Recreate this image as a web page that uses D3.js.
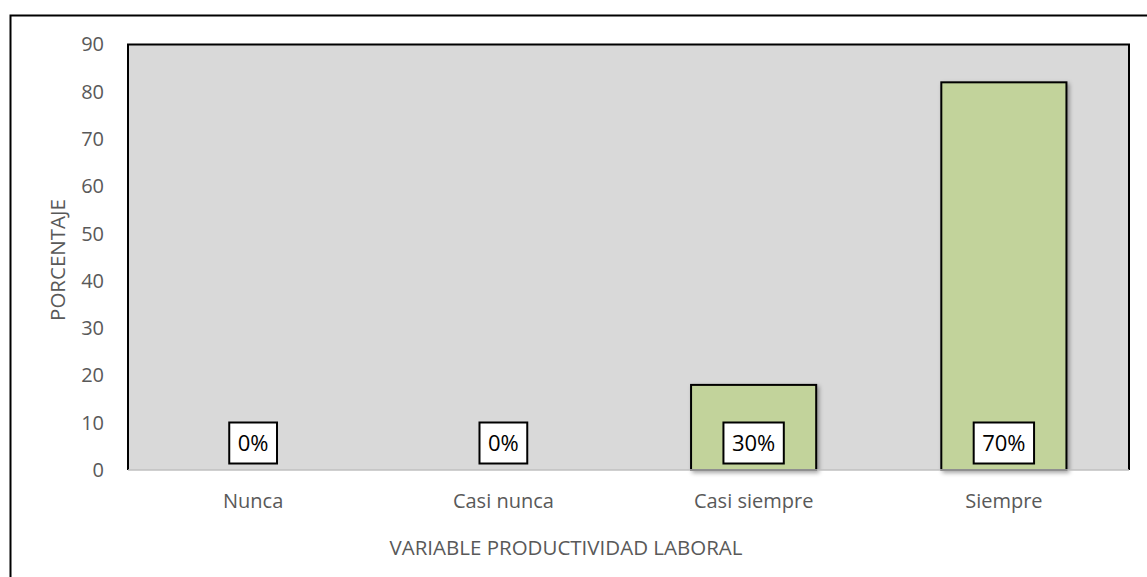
<!DOCTYPE html>
<html>
<head>
<meta charset="utf-8">
<script src="https://cdn.jsdelivr.net/npm/d3@7"></script>
<style>
  body { margin: 0; background: #fff; }
  svg { display: block; font-family: 'Open Sans', sans-serif; }
</style>
</head>
<body>
<div id="root"></div>
<script>
const categories = ['Nunca', 'Casi nunca', 'Casi siempre', 'Siempre'];
const values = [0, 0, 18, 82];
const labels = ['0%', '0%', '30%', '70%'];
const yTicks = [0, 10, 20, 30, 40, 50, 60, 70, 80, 90];

const width = 1147, height = 577;
const plot = {left: 128, top: 44.5, right: 1129, bottom: 470};

const svg = d3.select('#root').append('svg')
              .attr('width', width)
              .attr('height', height);

const defs = svg.append('defs');
const f = defs.append('filter').attr('id', 'shadow')
  .attr('x', '-10%').attr('y', '-10%').attr('width', '130%').attr('height', '130%');
f.append('feDropShadow').attr('dx', 2).attr('dy', 2).attr('stdDeviation', 2)
  .attr('flood-color', '#000').attr('flood-opacity', 0.35);

// outer chart border
svg.append('rect')
   .attr('x', 10.5).attr('y', 15.5)
   .attr('width', width + 20).attr('height', height + 20)
   .attr('fill', 'none').attr('stroke', '#000').attr('stroke-width', 2);

const x = d3.scaleBand()
  .domain(categories)
  .range([plot.left, plot.right])
  .paddingInner(0.5).paddingOuter(0.25);

const y = d3.scaleLinear()
  .domain([0, 90])
  .range([plot.bottom, plot.top]);

// plot area
svg.append('rect')
   .attr('x', plot.left).attr('y', plot.top)
   .attr('width', plot.right - plot.left).attr('height', plot.bottom - plot.top)
   .attr('fill', '#d9d9d9');

svg.append('path')
   .attr('d', `M${plot.left},${plot.bottom}V${plot.top}H${plot.right}V${plot.bottom}`)
   .attr('fill', 'none').attr('stroke', '#000').attr('stroke-width', 2);

// bars
const barData = categories.map((c, i) => ({cat: c, value: values[i]})).filter(d => d.value > 0);
svg.selectAll('rect.bar')
   .data(barData).enter()
   .append('rect')
   .attr('class', 'bar')
   .attr('x', d => x(d.cat))
   .attr('width', x.bandwidth())
   .attr('y', d => y(d.value))
   .attr('height', d => y(0) - y(d.value))
   .attr('fill', '#c2d39b')
   .attr('stroke', '#000').attr('stroke-width', 2)
   .attr('filter', 'url(#shadow)');

// baseline axis
svg.append('line')
   .attr('x1', plot.left).attr('x2', plot.right)
   .attr('y1', y(0)).attr('y2', y(0))
   .attr('stroke', '#bfbfbf').attr('stroke-width', 1.5);

// y tick labels
const yAxis = svg.append('g')
  .attr('transform', `translate(${plot.left},0)`)
  .call(d3.axisLeft(y).tickValues(yTicks).tickSize(0).tickPadding(24));
yAxis.select('.domain').remove();
yAxis.selectAll('text')
     .attr('font-family', "'Open Sans', sans-serif")
     .attr('font-size', 20).attr('fill', '#595959');

// x tick labels
const xAxis = svg.append('g')
  .attr('transform', `translate(0,${plot.bottom})`)
  .call(d3.axisBottom(x).tickSize(0).tickPadding(24));
xAxis.select('.domain').remove();
xAxis.selectAll('text')
     .attr('font-family', "'Open Sans', sans-serif")
     .attr('font-size', 20).attr('fill', '#595959');

// data labels
const lab = svg.selectAll('g.lab')
  .data(labels).enter()
  .append('g').attr('class', 'lab')
  .attr('transform', (d, i) => `translate(${x(categories[i]) + x.bandwidth() / 2},${y(0) - 27})`);
const boxes = lab.append('rect');
const texts = lab.append('text')
  .text(d => d)
  .attr('text-anchor', 'middle')
  .attr('y', 8)
  .attr('font-size', 22)
  .attr('fill', '#000');
texts.each(function(d, i) {
  const w = this.getComputedTextLength() + 17;
  d3.select(boxes.nodes()[i])
    .attr('x', -w / 2).attr('y', -20.5)
    .attr('width', w).attr('height', 41)
    .attr('fill', '#fff').attr('stroke', '#000').attr('stroke-width', 2);
});

// axis titles
svg.append('text')
   .text('PORCENTAJE')
   .attr('transform', 'translate(65,260) rotate(-90)')
   .attr('text-anchor', 'middle')
   .attr('font-size', 20.5).attr('fill', '#595959');

svg.append('text')
   .text('VARIABLE PRODUCTIVIDAD LABORAL')
   .attr('x', 566).attr('y', 555)
   .attr('text-anchor', 'middle')
   .attr('font-size', 20.5).attr('fill', '#595959');
</script>
</body>
</html>
